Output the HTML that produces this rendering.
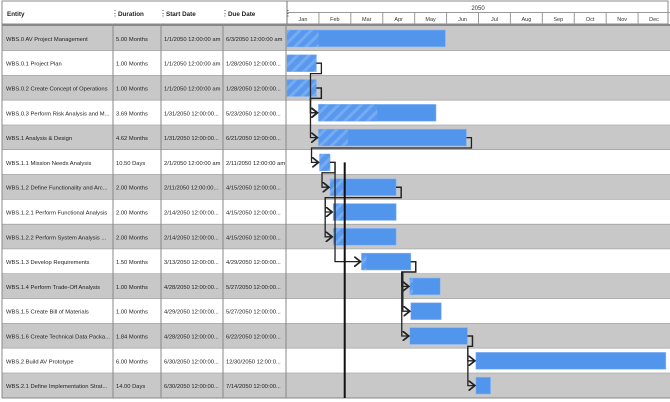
<!DOCTYPE html>
<html><head><meta charset="utf-8"><style>
body{margin:0;background:#fff;width:670px;height:402px;overflow:hidden}
svg{font-family:"Liberation Sans",sans-serif;display:block}
</style></head><body>
<svg id="g" width="670" height="402">
<defs>
<pattern id="hatch" width="8" height="8" patternUnits="userSpaceOnUse" patternTransform="rotate(45)">
<rect width="8" height="8" fill="#5a9af0"/><rect width="3" height="8" fill="#7fb0f2"/>
</pattern>
<marker id="arr" markerWidth="6" markerHeight="8" refX="5" refY="4" orient="auto"><path d="M0,0 L5,4 L0,8" fill="none" stroke="#222" stroke-width="1.3"/></marker>
</defs>
</svg>
<script>
const names=["WBS.0 AV Project Management","WBS.0.1 Project Plan","WBS.0.2 Create Concept of Operations","WBS.0.3 Perform Risk Analysis and M...","WBS.1 Analysis & Design","WBS.1.1 Mission Needs Analysis","WBS.1.2 Define Functionality and Arc...","WBS.1.2.1 Perform Functional Analysis","WBS.1.2.2 Perform System Analysis ...","WBS.1.3 Develop Requirements","WBS.1.4 Perform Trade-Off Analysis","WBS.1.5 Create Bill of Materials","WBS.1.6 Create Technical Data Packa...","WBS.2 Build AV Prototype","WBS.2.1 Define Implementation Strat..."];
const durations=["5.00 Months","1.00 Months","1.00 Months","3.69 Months","4.62 Months","10.50 Days","2.00 Months","2.00 Months","2.00 Months","1.50 Months","1.00 Months","1.00 Months","1.84 Months","6.00 Months","14.00 Days"];
const startDates=["1/1/2050 12:00:00 am","1/1/2050 12:00:00 am","1/1/2050 12:00:00 am","1/31/2050 12:00:00...","1/31/2050 12:00:00...","2/1/2050 12:00:00 am","2/11/2050 12:00:00...","2/14/2050 12:00:00...","2/14/2050 12:00:00...","3/13/2050 12:00:00...","4/28/2050 12:00:00...","4/29/2050 12:00:00...","4/28/2050 12:00:00...","6/30/2050 12:00:00...","6/30/2050 12:00:00..."];
const dueDates=["6/3/2050 12:00:00 am","1/28/2050 12:00:00...","1/28/2050 12:00:00...","5/23/2050 12:00:00...","6/21/2050 12:00:00...","2/11/2050 12:00:00 am","4/15/2050 12:00:00...","4/15/2050 12:00:00...","4/15/2050 12:00:00...","4/29/2050 12:00:00...","5/27/2050 12:00:00...","5/27/2050 12:00:00...","6/22/2050 12:00:00...","12/30/2050 12:00:0...","7/14/2050 12:00:00..."];
const startDay=[0,0,0,30,30,31,41,44,44,71,117,118,117,180,180];
const durDays=[151,28,28,112,141,10,63,60,60,47,29,29,55,181,14];
const progress=[0.2,1,1,0.5,0.2,1,0.2,0.2,0.2,0.1,0.1,0,0,0,0];
const deps=[[1,3],[2,3],[2,4],[4,5],[5,6],[6,7],[6,8],[5,9],[9,10],[9,11],[9,12],[12,13],[12,14]];
const months=["Jan","Feb","Mar","Apr","May","Jun","Jul","Aug","Sep","Oct","Nov","Dec"];
const todayDay=55;

const NS="http://www.w3.org/2000/svg",svg=document.getElementById('g');
function el(t,a,p){const e=document.createElementNS(NS,t);for(const k in a)e.setAttribute(k,a[k]);(p||svg).appendChild(e);return e;}
const X0=287,W=383,top0=26,RH=24.8;
const xs=d=>X0+d/365*W, ry=i=>top0+i*RH;
const cols=[[2,113,"Entity"],[113,161,"Duration"],[161,223,"Start Date"],[223,286,"Due Date"]];
let h=el('rect',{x:2,y:1,width:666,height:23,fill:'#fff',stroke:'#888'});

cols.forEach((c,i)=>{let t=el('text',{x:c[0]+5,y:16,'font-size':6.3,'font-weight':'bold',fill:'#222'});t.textContent=c[2];

let s=el('text',{x:c[1]-2,y:16,'font-size':8,fill:'#333'});s.textContent='⋮';});
el('line',{x1:X0,y1:1,x2:X0,y2:398,stroke:'#777'});
el('line',{x1:X0,y1:12.5,x2:670,y2:12.5,stroke:'#999'});
let yr=el('text',{x:478,y:10,'font-size':6,'text-anchor':'middle',fill:'#333'});yr.textContent='2050';

months.forEach((m,i)=>{let x=xs(i*365/12);if(i)el('line',{x1:x,y1:12.5,x2:x,y2:24,stroke:'#999'});
let t=el('text',{x:x+W/24,y:21,'font-size':5.5,'text-anchor':'middle',fill:'#333'});t.textContent=m;
});
names.forEach((n,i)=>{const y=ry(i);
let r=el('rect',{x:2,y:y,width:668,height:RH,fill:i%2?'#fff':'#c8c8c8'});

el('line',{x1:2,y1:y+RH,x2:670,y2:y+RH,stroke:'#888',"stroke-width":1});
[n,durations[i],startDates[i],dueDates[i]].forEach((v,k)=>{let t=el('text',{x:cols[k][0]+(k?3:4),y:y+RH/2+2.5,'font-size':5.8,fill:'#222'});t.textContent=v;
});
});
el('line',{x1:2,y1:top0-1,x2:670,y2:top0-1,stroke:'#888',"stroke-width":2});
cols.forEach(c=>el('line',{x1:c[1],y1:top0,x2:c[1],y2:ry(15),stroke:'#888'}));
el('line',{x1:2,y1:1,x2:2,y2:ry(15),stroke:'#888'});
startDay.forEach((s,i)=>{const x=xs(s),w=durDays[i]/365*W,y=ry(i)+4;
let b=el('rect',{x:x,y:y,width:w,height:RH-8,fill:'#5295ec',stroke:'#8ab8f4','stroke-width':0.6});

if(progress[i]>0){let p=el('rect',{x:x,y:y,width:w*progress[i],height:RH-8,fill:'url(#hatch)',opacity:0.8});
}
});
deps.forEach(([a,b])=>{const ex=xs(startDay[a]+durDays[a]),ey=ry(a)+RH/2,sx=xs(startDay[b]),sy=ry(b)+RH/2;
const mx=ex+5,lx=Math.min(sx-8,mx),my=ry(a)+RH-2;
let d=`M${ex},${ey} H${mx} V${my} H${lx} V${sy} H${sx-1}`;
let p=el('path',{d:d,fill:'none',stroke:'#222','stroke-width':1.3,'marker-end':'url(#arr)'});
});
let tl=el('line',{x1:xs(todayDay),y1:ry(5)+RH/2,x2:xs(todayDay),y2:ry(15),stroke:'#111','stroke-width':2});

</script>
</body></html>
